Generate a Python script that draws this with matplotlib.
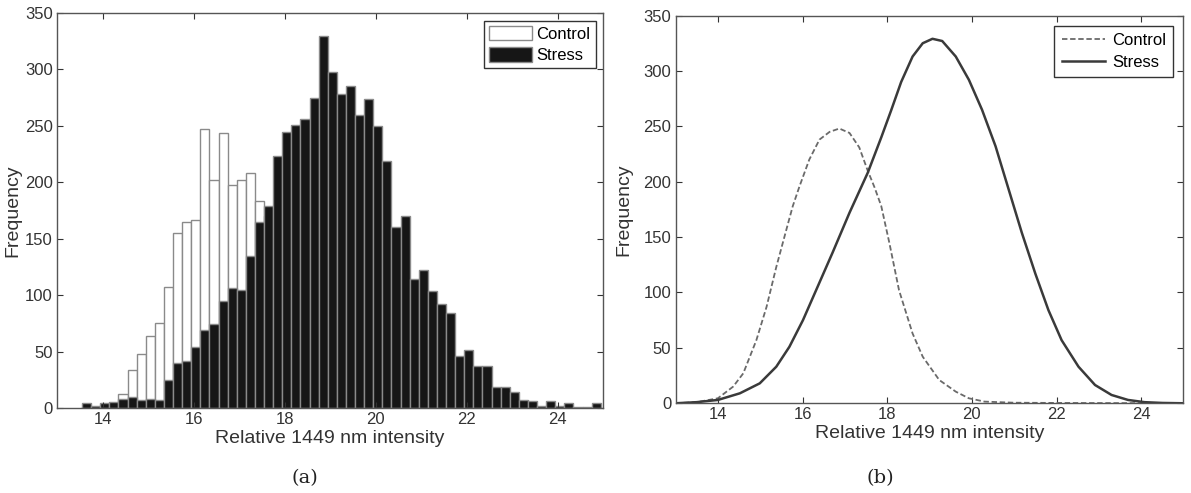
import numpy as np
import matplotlib
matplotlib.use("Agg")
import matplotlib.pyplot as plt
from matplotlib.patches import Patch

plt.rcParams["font.family"] = ["Liberation Sans", "DejaVu Sans"]

# --- (a) histogram: 0.2-wide bins starting at 13.55 ---
bin_start = 13.55
bin_width = 0.2
stress_counts = [4, 2, 4, 5, 8, 10, 7, 8, 7, 25, 40, 42, 54, 69, 74, 95, 106, 105,
                 135, 165, 179, 223, 245, 251, 256, 275, 330, 298, 278, 285, 260,
                 274, 250, 219, 160, 170, 114, 122, 104, 92, 84, 46, 51, 37, 37,
                 19, 19, 14, 7, 6, 2, 6, 2, 4, 1, 1, 4]
control_counts = [1, 1, 2, 3, 12, 34, 48, 64, 75, 107, 155, 165, 167, 247, 202,
                  244, 198, 202, 208, 183, 170, 140, 110, 80, 55, 38, 25, 15, 9,
                  5, 3, 2, 1, 0, 0, 0, 0, 0, 0, 0, 0, 0, 0, 0, 0, 0, 0, 0, 0, 0,
                  0, 0, 0, 0, 0, 0, 0]

# --- (b) fitted curves ---
control_x = [13.0, 13.5, 14.0, 14.36, 14.6, 14.91, 15.15, 15.38, 15.62, 15.77,
             15.93, 16.16, 16.4, 16.64, 16.87, 17.11, 17.34, 17.54, 17.7, 17.86,
             18.05, 18.28, 18.6, 18.84, 19.23, 19.62, 19.93, 20.3, 21.0, 22.0,
             23.0, 24.0, 25.0]
control_y = [0, 1, 4.5, 15, 27, 57, 87, 123, 157, 178, 196, 220, 238, 245, 248,
             244, 231, 210, 195, 178, 145, 102, 63, 42, 21, 10.5, 4.5, 1.5, 0.5,
             0.3, 0.2, 0.1, 0]
stress_x = [13.0, 13.5, 14.0, 14.52, 14.99, 15.38, 15.69, 16.01, 16.32, 16.71,
            17.11, 17.54, 17.86, 18.09, 18.33, 18.6, 18.84, 19.07, 19.3, 19.62,
            19.93, 20.24, 20.56, 20.87, 21.18, 21.5, 21.81, 22.12, 22.52, 22.91,
            23.3, 23.69, 24.08, 24.5, 25.0]
stress_y = [0, 1, 3, 9, 18, 33, 51, 75, 102, 136, 172, 208, 240, 264, 290, 313,
            325, 329, 327, 313, 292, 265, 232, 193, 154, 117, 84, 57, 33, 16.5,
            7.5, 3, 1, 0.3, 0]

fig = plt.figure(figsize=(11.91, 4.93), dpi=100)
ax1 = fig.add_axes([0.0479, 0.1724, 0.4584, 0.8012])
ax2 = fig.add_axes([0.5672, 0.1820, 0.4265, 0.7865])

centers = bin_start + bin_width / 2 + bin_width * np.arange(len(stress_counts))
ax1.bar(centers, control_counts, width=bin_width, color="white",
        edgecolor="#8a8a8a", linewidth=1.0)
ax1.bar(centers, stress_counts, width=bin_width, color="#161616",
        edgecolor="#8a8a8a", linewidth=1.0)
handles = [Patch(facecolor="white", edgecolor="#8a8a8a", label="Control"),
           Patch(facecolor="#161616", edgecolor="#8a8a8a", label="Stress")]
ax1.legend(handles=handles, loc="upper right", fontsize=12, frameon=True,
           fancybox=False, edgecolor="#333333", framealpha=1,
           borderpad=0.3, handlelength=2.6, handleheight=1.0,
           handletextpad=0.25, labelspacing=0.3, borderaxespad=0.45)

ax2.plot(control_x, control_y, "--", color="#6a6a6a", linewidth=1.3,
         dashes=(3, 1.5), label="Control")
ax2.plot(stress_x, stress_y, "-", color="#3a3a3a", linewidth=1.8,
         label="Stress")
ax2.legend(loc="upper right", fontsize=12, frameon=True, fancybox=False,
           edgecolor="#333333", framealpha=1, borderpad=0.45, handlelength=2.6,
           handletextpad=0.4, labelspacing=0.4, borderaxespad=0.6)

for ax in (ax1, ax2):
    ax.set_xlim(13, 25)
    ax.set_ylim(0, 350)
    ax.set_xticks([14, 16, 18, 20, 22, 24])
    ax.set_yticks(range(0, 351, 50))
    ax.tick_params(direction="in", top=True, right=True, length=4,
                   labelsize=12, colors="#333333", pad=3)
    for s in ax.spines.values():
        s.set_color("#555555")
        s.set_linewidth(1.0)
    ax.set_xlabel("Relative 1449 nm intensity", fontsize=14, color="#333333",
                  labelpad=2)
    ax.set_ylabel("Frequency", fontsize=14, color="#333333")

ax1.yaxis.set_label_coords(-0.066, 0.5)
ax2.yaxis.set_label_coords(-0.084, 0.5)

fig.text(0.256, 0.03, "(a)", fontsize=14, family="DejaVu Serif",
         ha="center", va="center", color="#222222")
fig.text(0.739, 0.03, "(b)", fontsize=14, family="DejaVu Serif",
         ha="center", va="center", color="#222222")

fig.savefig("out.png", dpi=100)
